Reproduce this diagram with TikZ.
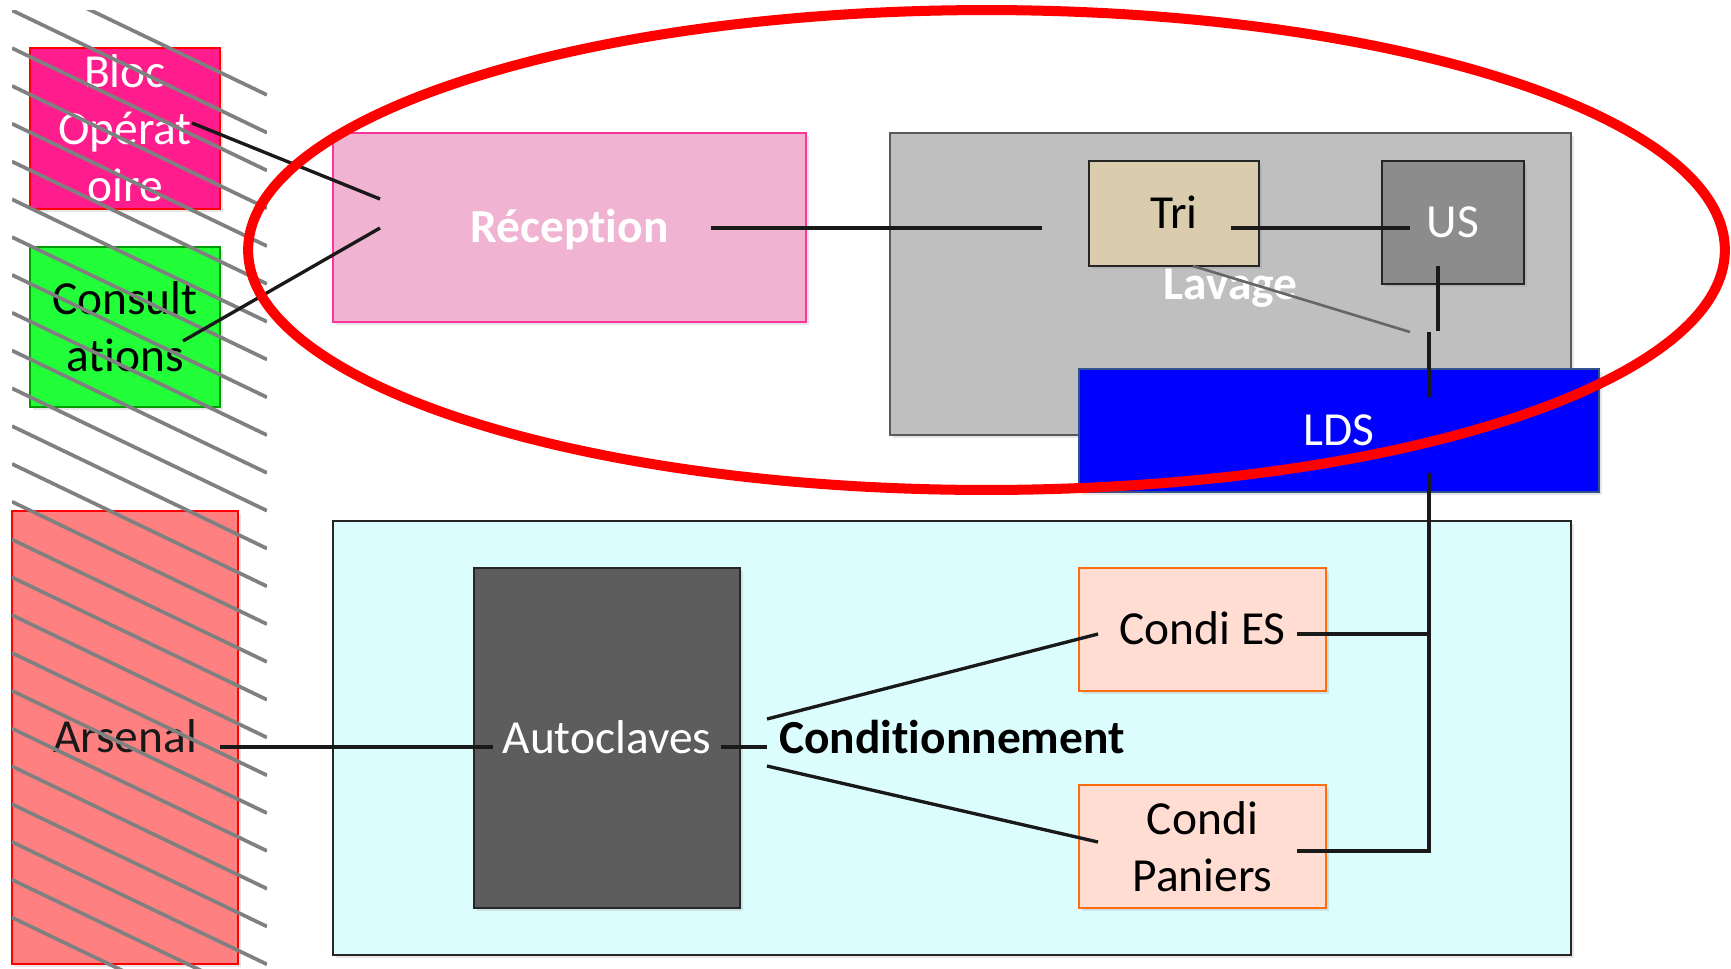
\documentclass[tikz,border=0pt]{standalone}
\usepackage{fontspec}
\setmainfont{Carlito}[Ligatures=NoCommon]
\usepackage{tikz}
\usetikzlibrary{positioning,shadows}
\definecolor{blocfill}{HTML}{FF1C8C}
\definecolor{consfill}{HTML}{22FF38}
\definecolor{consline}{HTML}{009A00}
\definecolor{arsfill}{HTML}{FF8080}
\definecolor{recfill}{HTML}{F0B4D2}
\definecolor{recline}{HTML}{FF3399}
\definecolor{lavfill}{HTML}{BFBFBF}
\definecolor{trifill}{HTML}{D9CDAE}
\definecolor{usfill}{HTML}{8C8C8C}
\definecolor{ldsline}{HTML}{2F528F}
\definecolor{cyanfill}{HTML}{DBFDFD}
\definecolor{autofill}{HTML}{5D5D5D}
\definecolor{condfill}{HTML}{FFDDD3}
\definecolor{condline}{HTML}{FF6D10}

\begin{document}
\begin{tikzpicture}[x=0.02cm, y=-0.02cm,
	box/.style={draw, rectangle, inner sep=0pt, align=center, line width=1pt,
		font=\fontsize{27}{32.5}\selectfont,
		drop shadow={opacity=.2, shadow xshift=1.5pt, shadow yshift=-1.5pt}},
	one/.style={text height=17.5pt, text depth=0pt},
	lnk/.style={line width=1.9pt, black!90},
	hatch/.style={line width=2.1pt, black!50}
]
	\useasboundingbox (0,0) rectangle (1731,968);
	% services on the left
	\node[box, fill=blocfill, draw=red, text=white, minimum width=3.8cm, minimum height=3.22cm]
		(bloc) at (125,128.5) {Bloc\\Opérat\\oire};
	\node[box, fill=consfill, draw=consline, minimum width=3.8cm, minimum height=3.2cm]
		(cons) at (125,327) {Consult\\ations};
	\node[box, one, fill=arsfill, draw=red, text=black!90, minimum width=4.52cm, minimum height=9.06cm]
		(ars) at (125,737.5) {Arsenal};
	% hatching
	\begin{scope}
		\clip (12,10) rectangle (267,968);
		\foreach \k in {-1,...,24}
			\draw[hatch] (12,{10.3+37.8*\k}) -- (267,{132.7+37.8*\k});
	\end{scope}
	% dirty zone
	\node[box, one, fill=recfill, draw=recline, text=white, font=\fontsize{27}{32.5}\selectfont\bfseries,
		minimum width=9.46cm, minimum height=3.78cm] (recep) at (569.5,227.5) {Réception};
	\node[box, one, fill=lavfill, draw=black!65, text=white, font=\fontsize{27}{32.5}\selectfont\bfseries,
		minimum width=13.62cm, minimum height=6.04cm] (lav) at (1230.5,284) {Lavage};
	\node[box, one, fill=trifill, draw=black!85, minimum width=3.4cm, minimum height=2.1cm]
		(tri) at (1174,213.5) {Tri};
	\node[box, one, fill=usfill, draw=black!85, text=white, minimum width=2.84cm, minimum height=2.46cm]
		(us) at (1453,222.5) {US};
	\node[box, one, fill=blue, draw=ldsline, text=white, minimum width=10.4cm, minimum height=2.46cm]
		(lds) at (1339,430.5) {LDS};
	% clean zone
	\node[box, one, fill=cyanfill, draw=black!85, font=\fontsize{27}{32.5}\selectfont\bfseries,
		minimum width=24.76cm, minimum height=8.68cm] (cond) at (952,738) {Conditionnement};
	\node[box, one, fill=autofill, draw=black!85, text=white, minimum width=5.32cm, minimum height=6.8cm]
		(auto) at (607,738) {Autoclaves};
	\node[box, one, fill=condfill, draw=condline, minimum width=4.94cm, minimum height=2.46cm]
		(es) at (1202.5,629.5) {Condi ES};
	\node[box, fill=condfill, draw=condline, minimum width=4.94cm, minimum height=2.46cm]
		(pan) at (1202.5,846.5) {Condi\\Paniers};
	% connector ends
	\coordinate (blocR) at (192,123);
	\coordinate (consR) at (183,341);
	\coordinate (recepL1) at (380,199);
	\coordinate (recepL2) at (380,228);
	\coordinate (recepR) at (711,228);
	\coordinate (triL) at (1042,228);
	\coordinate (triR) at (1231,228);
	\coordinate (usL) at (1410,228);
	\coordinate (triB) at (1193,266);
	\coordinate (lavJ) at (1410,332);
	\coordinate (usB) at (1438,266);
	\coordinate (usJ) at (1438,331);
	\coordinate (ldsT) at (1429,332);
	\coordinate (ldsM) at (1429,397);
	\coordinate (ldsB) at (1429,473);
	\coordinate (busES) at (1429,634);
	\coordinate (busPan) at (1429,851);
	\coordinate (esR) at (1297,634);
	\coordinate (panR) at (1297,851);
	\coordinate (esL) at (1098,634);
	\coordinate (panL) at (1098,842);
	\coordinate (arsR) at (220,747);
	\coordinate (autoL) at (493,747);
	\coordinate (autoR) at (721,747);
	\coordinate (condL) at (767,747);
	\coordinate (condU) at (767,719);
	\coordinate (condD) at (767,766);
	% links
	\draw[lnk] (blocR) -- (recepL1);
	\draw[lnk] (consR) -- (recepL2);
	\draw[lnk] (recepR) -- (triL);
	\draw[lnk] (triR) -- (usL);
	\draw[line width=1.5pt, black!60] (triB) -- (lavJ);
	\draw[lnk, line width=2.1pt] (usB) -- (usJ);
	\draw[lnk, line width=2.1pt] (ldsT) -- (ldsM);
	\draw[lnk] (ldsB) -- (busPan) -- (panR);
	\draw[lnk] (busES) -- (esR);
	\draw[lnk] (arsR) -- (autoL);
	\draw[lnk] (autoR) -- (condL);
	\draw[lnk] (condU) -- (esL);
	\draw[lnk] (condD) -- (panL);
	% zone outline
	\draw[red, line width=5.7pt] (986.5,250) ellipse [x radius=14.77cm, y radius=4.8cm];
\end{tikzpicture}
\end{document}
